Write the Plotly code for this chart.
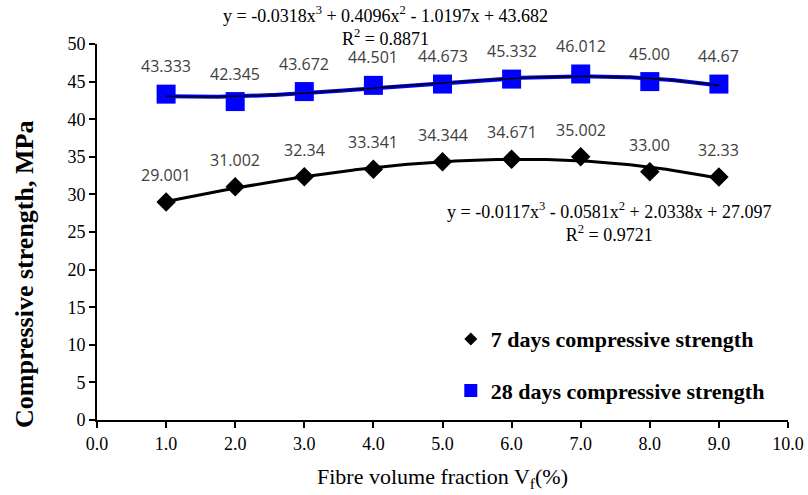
import numpy as np
import plotly.graph_objects as go

fibre = [1.0, 2.0, 3.0, 4.0, 5.0, 6.0, 7.0, 8.0, 9.0]
days7 = [29.001, 31.002, 32.34, 33.341, 34.344, 34.671, 35.002, 33.00, 32.33]
days28 = [43.333, 42.345, 43.672, 44.501, 44.673, 45.332, 46.012, 45.00, 44.67]
labels7 = ["29.001", "31.002", "32.34", "33.341", "34.344", "34.671", "35.002", "33.00", "32.33"]
labels28 = ["43.333", "42.345", "43.672", "44.501", "44.673", "45.332", "46.012", "45.00", "44.67"]
xticks = [0, 1, 2, 3, 4, 5, 6, 7, 8, 9, 10]

eq28 = "y = -0.0318x<sup>3</sup> + 0.4096x<sup>2</sup> - 1.0197x + 43.682<br>R<sup>2</sup> = 0.8871"
eq7 = "y = -0.0117x<sup>3</sup> - 0.0581x<sup>2</sup> + 2.0338x + 27.097<br>R<sup>2</sup> = 0.9721"

xs = np.linspace(min(fibre), max(fibre), 200)
fit7 = np.polyval(np.polyfit(fibre, days7, 3), xs)
fit28 = np.polyval(np.polyfit(fibre, days28, 3), xs)

fig = go.Figure()
fig.add_trace(go.Scatter(x=xs, y=fit28, mode="lines", line=dict(color="#0000FF", width=4),
                         showlegend=False, hoverinfo="skip"))
fig.add_trace(go.Scatter(x=xs, y=fit7, mode="lines", line=dict(color="black", width=3),
                         showlegend=False, hoverinfo="skip"))
fig.add_trace(go.Scatter(x=fibre, y=days7, mode="markers", name="7 days compressive strength",
                         marker=dict(symbol="diamond", size=15, color="black"), showlegend=False))
fig.add_trace(go.Scatter(x=fibre, y=days28, mode="markers", name="28 days compressive strength",
                         marker=dict(symbol="square", size=19, color="#0000FF"), showlegend=False))
fig.add_trace(go.Scatter(x=xs, y=fit28, mode="lines", line=dict(color="black", width=1.5),
                         showlegend=False, hoverinfo="skip"))
# legend entries (smaller symbols, as in the reference legend)
fig.add_trace(go.Scatter(x=[None], y=[None], mode="markers", name="7 days compressive strength",
                         marker=dict(symbol="diamond", size=10, color="black"), legendgroup="a"))
fig.add_trace(go.Scatter(x=[None], y=[None], mode="markers", name="28 days compressive strength",
                         marker=dict(symbol="square", size=13, color="#0000FF"), legendgroup="b"))

lab_font = dict(family="Open Sans", size=16, color="#404040")
for x, y, t in zip(fibre, days28, labels28):
    fig.add_annotation(x=x, y=y, text=t, showarrow=False, yshift=28, font=lab_font)
for x, y, t in zip(fibre, days7, labels7):
    fig.add_annotation(x=x, y=y, text=t, showarrow=False, yshift=27, font=lab_font)

serif = "Liberation Serif"
eq_font = dict(family=serif, size=18, color="black")
fig.add_annotation(x=0.417, y=1.047, xref="paper", yref="paper", text=eq28, showarrow=False,
                   font=eq_font, align="center", xanchor="center", yanchor="middle")
fig.add_annotation(x=0.741, y=0.527, xref="paper", yref="paper", text=eq7, showarrow=False,
                   font=eq_font, align="center", xanchor="center", yanchor="middle")
fig.add_annotation(x=-0.104, y=0.386, xref="paper", yref="paper",
                   text="<b>Compressive strength, MPa</b>", textangle=-90, showarrow=False,
                   font=dict(family=serif, size=26, color="black"),
                   xanchor="center", yanchor="middle")

fig.update_layout(
    width=808, height=495,
    margin=dict(l=97, r=20, t=44, b=75),
    paper_bgcolor="white", plot_bgcolor="white",
    legend=dict(x=0.512, y=0.271, xanchor="left", yanchor="top",
                font=dict(family=serif, size=22, color="black", weight="bold"),
                tracegroupgap=20, bgcolor="rgba(0,0,0,0)"),
    xaxis=dict(range=[0, 10], tickvals=xticks, ticktext=[f"{v:.1f}" for v in xticks],
               showline=True, linecolor="black", linewidth=2, ticks="outside", ticklen=6,
               tickwidth=2, tickcolor="black", showgrid=False, zeroline=False, automargin=False,
               tickfont=dict(family=serif, size=18, color="black"),
               title=dict(text="Fibre volume fraction V<sub>f</sub>(%)",
                          font=dict(family=serif, size=22, color="black"), standoff=16)),
    yaxis=dict(range=[0, 50], dtick=5, showline=True, linecolor="black", linewidth=2,
               ticks="outside", ticklen=6, tickwidth=2, tickcolor="black", showgrid=False,
               zeroline=False, automargin=False,
               tickfont=dict(family=serif, size=18, color="black")),
)

fig.write_html("out.html")
